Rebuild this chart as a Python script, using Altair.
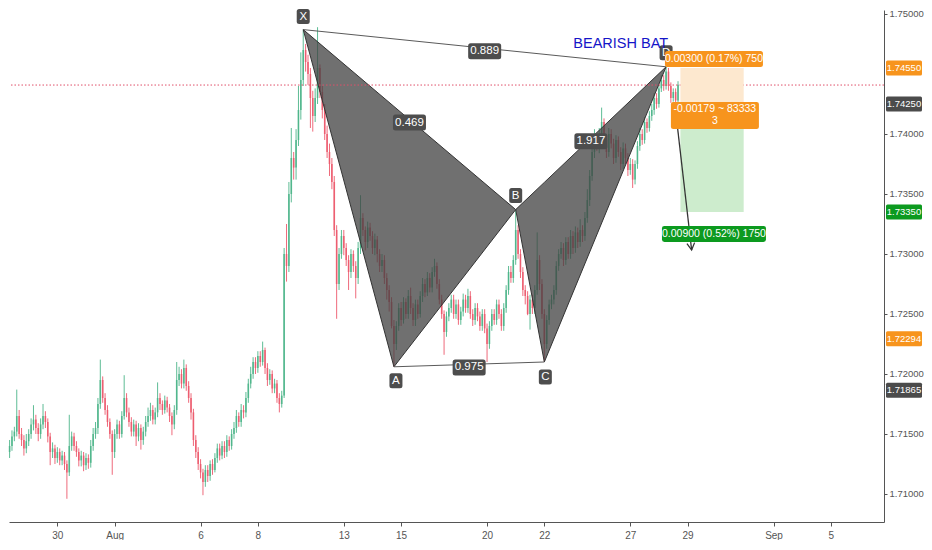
import altair as alt
import pandas as pd

# ---------------- data ----------------
# 2-hour candles; prices are written in pips (0.0001) above 1.70000
BASE = 1.70
PIP = 0.0001

opens = [
    135,140,148,152,165,150,145,138,144,150,
    158,162,155,150,158,165,160,148,135,138,
    130,135,128,132,125,118,140,148,140,135,
    128,132,124,130,126,140,150,155,175,195,
    180,170,160,150,135,150,158,150,165,180,
    168,160,152,158,148,155,145,152,160,165,
    170,162,168,180,175,170,178,172,165,158,
    170,195,200,192,205,190,180,168,145,135,
    125,118,110,120,115,125,120,130,138,132,
    140,135,145,140,150,155,165,160,170,168,
    180,192,200,210,205,215,210,220,205,195,
    200,188,192,180,175,182,300,290,350,380,
    372,395,420,445,470,460,450,430,415,430,
    455,435,420,400,385,375,360,320,275,300,
    315,305,295,285,300,290,280,305,330,320,
    310,322,315,305,312,300,290,295,280,270,
    260,240,225,240,255,245,260,250,265,255,
    245,258,250,265,275,268,280,272,285,290,
    275,262,250,235,248,255,262,250,258,245,
    252,262,255,265,250,245,255,248,240,250,
    238,225,240,250,245,258,250,240,255,270,
    285,280,295,320,300,285,270,265,250,262,
    255,270,295,275,250,225,245,258,262,270,
    290,300,305,295,310,300,315,305,318,310,
    320,315,330,345,365,385,395,390,400,410,
    395,385,400,392,380,395,385,375,388,380,
    370,375,362,375,390,400,395,410,405,415,
    420,430,425,438,445,440,452,440,430,435,
    428,
]
highs = [
    145,153,156,187,170,155,149,150,154,163,
    174,166,159,163,175,169,163,151,143,141,
    139,138,136,135,128,166,152,151,144,138,
    136,135,134,133,145,155,160,180,212,198,
    184,174,163,153,154,162,161,169,199,184,
    172,164,162,161,159,158,156,165,172,176,
    174,172,193,184,178,182,181,175,168,174,
    210,206,204,212,208,194,184,171,149,139,
    129,121,124,124,128,129,134,142,142,144,
    144,149,148,154,160,170,168,175,174,185,
    196,206,214,214,219,219,227,222,209,204,
    203,196,195,184,186,305,325,360,405,385,
    404,440,468,487,475,466,455,436,438,489,
    458,440,425,407,392,380,365,324,305,320,
    320,309,299,304,303,294,310,349,334,323,
    327,326,319,317,315,304,300,299,284,274,
    264,245,244,259,260,264,263,270,272,259,
    262,262,269,280,279,285,284,289,296,293,
    279,266,253,252,259,266,266,262,262,256,
    267,266,271,269,254,259,259,252,254,254,
    242,244,254,254,262,262,254,259,274,290,
    290,299,337,324,304,289,274,269,266,266,
    274,318,299,279,254,249,262,266,274,294,
    304,310,309,314,314,320,319,323,322,329,
    324,335,354,370,392,404,400,405,422,413,
    399,405,404,396,399,398,389,393,392,384,
    380,379,378,394,405,404,414,413,419,425,
    434,434,441,449,449,456,455,443,438,438,
    444,
]
lows = [
    130,136,144,148,146,140,132,134,140,146,
    153,150,144,146,154,155,143,124,130,125,
    126,124,124,120,96,115,136,136,131,123,
    123,119,120,121,122,136,146,150,171,176,
    166,156,146,116,130,146,146,147,162,164,
    156,148,148,140,144,137,141,148,156,161,
    158,158,164,170,166,167,168,160,149,154,
    166,190,188,188,186,176,162,140,130,120,
    113,99,106,110,111,116,118,126,128,129,
    130,131,136,137,146,151,156,156,163,164,
    176,188,196,200,201,206,207,200,190,191,
    184,184,176,168,172,180,277,285,343,362,
    362,390,412,440,452,441,405,402,410,425,
    430,413,395,380,365,354,315,246,270,296,
    299,290,270,280,285,263,275,300,315,303,
    305,311,300,299,293,285,285,275,262,252,
    238,206,220,236,240,242,246,246,250,240,
    240,246,247,260,264,265,268,268,281,271,
    258,246,216,231,244,251,246,246,241,241,
    248,251,251,246,240,241,244,236,236,234,
    210,221,236,241,241,246,236,236,251,266,
    276,276,291,296,280,265,258,249,237,250,
    250,266,270,246,210,221,241,254,258,266,
    286,296,290,291,296,296,300,301,305,306,
    310,311,326,340,361,380,386,384,395,390,
    380,381,388,375,376,381,370,371,375,365,
    366,355,358,371,386,391,392,401,402,411,
    416,421,422,435,436,437,436,426,427,422,
    425,
]
closes = [
    140,148,152,165,150,145,138,144,150,158,
    162,155,150,158,165,160,148,135,138,130,
    135,128,132,125,118,140,148,140,135,128,
    132,124,130,126,140,150,155,175,195,180,
    170,160,150,135,150,158,150,165,180,168,
    160,152,158,148,155,145,152,160,165,170,
    162,168,180,175,170,178,172,165,158,170,
    195,200,192,205,190,180,168,145,135,125,
    118,110,120,115,125,120,130,138,132,140,
    135,145,140,150,155,165,160,170,168,180,
    192,200,210,205,215,210,220,205,195,200,
    188,192,180,175,182,300,290,350,380,372,
    395,420,445,470,460,450,430,415,430,455,
    435,420,400,385,375,360,320,275,300,315,
    305,295,285,300,290,280,305,330,320,310,
    322,315,305,312,300,290,295,280,270,260,
    240,225,240,255,245,260,250,265,255,245,
    258,250,265,275,268,280,272,285,290,275,
    262,250,235,248,255,262,250,258,245,252,
    262,255,265,250,245,255,248,240,250,238,
    225,240,250,245,258,250,240,255,270,285,
    280,295,320,300,285,270,265,250,262,255,
    270,295,275,250,225,245,258,262,270,290,
    300,305,295,310,300,315,305,318,310,320,
    315,330,345,365,385,395,390,400,410,395,
    385,400,392,380,395,385,375,388,380,370,
    375,362,375,390,400,395,410,405,415,420,
    430,425,438,445,440,452,440,430,435,428,
    441,
]

# time axis: bar index (12 two-hour bars per trading day, weekends skipped)
date_ticks = [20, 44, 80, 104, 140, 164, 200, 224, 260, 284, 320, 344]
date_labels = ["30", "Aug", "6", "8", "13", "15", "20", "22", "27", "29", "Sep", "5"]
price_ticks = [1.710, 1.715, 1.720, 1.725, 1.730, 1.735, 1.740, 1.750]

# harmonic pattern
pat_names = ["X", "A", "B", "C", "D"]
pat_bars = [123, 161, 212, 224, 275]
pat_prices = [1.74870, 1.72060, 1.73370, 1.72100, 1.74560]
ratio_text = ["0.889", "0.469", "1.917", "0.975"]
ratio_pairs = [("X", "D"), ("X", "B"), ("B", "D"), ("A", "C")]
title_text = "BEARISH BAT"
title_bar, title_price = 256, 1.7475

# short position tool
pos_bars = [281, 307.5]
pos_stop, pos_entry, pos_target = 1.7455, 1.7425, 1.7335
pos_top_label = "0.00300 (0.17%) 750"
pos_mid_label = ["-0.00179 ~ 83333", "3"]
pos_bot_label = "0.00900 (0.52%) 1750"
arrow_bars = [278.7, 285.7]
arrow_prices = [1.74242, 1.73033]

last_price = 1.74408
tag_prices = [1.74550, 1.74250, 1.73350, 1.72294, 1.71865]
tag_colors = ["#f7941d", "#4b4b4b", "#0c9a1f", "#f7941d", "#4b4b4b"]

# ---------------- layout ----------------
FONT = "Liberation Sans, Arial, sans-serif"
W, H = 875, 512
XDOM = [-0.25, 366.28]
YDOM = [1.750333 - H / 12000.0, 1.750333]
PXP = (YDOM[1] - YDOM[0]) / H   # price per pixel
PXB = (XDOM[1] - XDOM[0]) / W   # bars per pixel

xs = alt.Scale(domain=XDOM, nice=False, zero=False)
ys = alt.Scale(domain=YDOM, nice=False, zero=False)

label_expr = "[" + ",".join("'%s'" % s for s in date_labels) + "][indexof([" + \
    ",".join(str(v) for v in date_ticks) + "], datum.value)]"
x_axis = alt.Axis(values=date_ticks, labelExpr=label_expr, title=None, grid=False,
                  domainColor="#555", tickColor="#555", tickSize=4, labelColor="#555",
                  labelFont=FONT, labelFontSize=10, labelPadding=4,
                  labelFlush=False, labelOverlap=False)
y_axis = alt.Axis(orient="right", values=price_ticks, format=".5f", title=None, grid=False,
                  domainColor="#555", tickColor="#555", tickSize=3, labelColor="#555",
                  labelFont=FONT, labelFontSize=9.5, labelPadding=2,
                  labelFlush=False, labelOverlap=False)


def X(f):
    return alt.X(f + ":Q", scale=xs, axis=x_axis)


def Y(f):
    return alt.Y(f + ":Q", scale=ys, axis=y_axis)


n = min(len(opens), len(highs), len(lows), len(closes))
cdf = pd.DataFrame({
    "bar": list(range(n)),
    "o": [BASE + v * PIP for v in opens[:n]],
    "h": [BASE + v * PIP for v in highs[:n]],
    "l": [BASE + v * PIP for v in lows[:n]],
    "c": [BASE + v * PIP for v in closes[:n]],
})
cdf["col"] = ["#4cb58a" if c >= o else "#ec5a6d" for o, c in zip(opens[:n], closes[:n])]

wicks = alt.Chart(cdf).mark_rule(strokeWidth=1, opacity=0.9).encode(
    x=X("bar"), y=Y("l"), y2="h:Q", color=alt.Color("col:N", scale=None))
bodies = alt.Chart(cdf).mark_rule(strokeWidth=1.6, opacity=0.9).encode(
    x=X("bar"), y=Y("o"), y2="c:Q", color=alt.Color("col:N", scale=None))

P = {k: (b, p) for k, b, p in zip(pat_names, pat_bars, pat_prices)}


def on_line(b, a, z):
    (b0, v0), (b1, v1) = a, z
    return v0 + (v1 - v0) * (b - b0) / (b1 - b0)


tri_rows = []
for name, (a, m, z) in {"XAB": ("X", "A", "B"), "BCD": ("B", "C", "D")}.items():
    for k in (a, m, z):
        b, p = P[k]
        tri_rows.append({"tri": name, "bar": b, "lo": p, "hi": on_line(b, P[a], P[z])})
tdf = pd.DataFrame(tri_rows)
tris = alt.Chart(tdf).mark_area(fill="#404040", fillOpacity=0.75, stroke="#333333",
                                strokeWidth=1).encode(
    x=X("bar"), y=Y("lo"), y2="hi:Q", detail="tri:N")

seg = pd.DataFrame([
    {"b1": P["X"][0], "p1": P["X"][1], "b2": P["D"][0], "p2": P["D"][1]},
    {"b1": P["A"][0], "p1": P["A"][1], "b2": P["C"][0], "p2": P["C"][1]},
])
segs = alt.Chart(seg).mark_rule(color="#5a5a5a", strokeWidth=1).encode(
    x=X("b1"), x2="b2:Q", y=Y("p1"), y2="p2:Q")

cur = alt.Chart(pd.DataFrame({"p": [last_price]})).mark_rule(
    color="#e0506a", strokeDash=[1.5, 2], strokeWidth=1).encode(y=Y("p"))

pos = pd.DataFrame([
    {"b1": pos_bars[0], "b2": pos_bars[1], "p1": pos_entry, "p2": pos_stop, "fill": "#fde8cf"},
    {"b1": pos_bars[0], "b2": pos_bars[1], "p1": pos_entry, "p2": pos_target, "fill": "#cdeccd"},
])
pos_rects = alt.Chart(pos).mark_rect().encode(
    x=X("b1"), x2="b2:Q", y=Y("p1"), y2="p2:Q", color=alt.Color("fill:N", scale=None))

arr = pd.DataFrame({"b1": [arrow_bars[0]], "p1": [arrow_prices[0]],
                    "b2": [arrow_bars[1]], "p2": [arrow_prices[1]]})
arrow_line = alt.Chart(arr).mark_rule(color="#333", strokeWidth=1.3).encode(
    x=X("b1"), x2="b2:Q", y=Y("p1"), y2="p2:Q")
arrow_head = alt.Chart(arr).mark_point(
    shape="M-0.55,-1L0,0L0.55,-1", filled=False, size=196, angle=353,
    strokeWidth=1.3, color="#333", opacity=1).encode(x=X("b2"), y=Y("p2"))


def box_path(w, h, r=2.5):
    s = w / 2.0
    a = h / 2.0 / s
    k = r / s
    return ("M%.4f,%.4fL%.4f,%.4fQ1,%.4f 1,%.4fL1,%.4fQ1,%.4f %.4f,%.4fL%.4f,%.4f"
            "Q-1,%.4f -1,%.4fL-1,%.4fQ-1,%.4f %.4f,%.4fZ") % (
        -1 + k, -a, 1 - k, -a, -a, -a + k, a - k, a, 1 - k, a, -1 + k, a,
        a, a - k, -a + k, -a, -1 + k, -a)


def boxes_df(rows):
    df = pd.DataFrame(rows)
    df["path"] = [box_path(w, h) for w, h in zip(df["w"], df["h"])]
    df["sz"] = df["w"] ** 2
    return df


# pattern labels (centre = anchor point + pixel offset)
pat_off = {"X": (0, -13), "A": (2, 14), "B": (0, -14), "C": (1, 15), "D": (0, -14)}
prow = []
for k in pat_names:
    b, p = P[k]
    dx, dy = pat_off[k]
    prow.append({"bar": b + dx * PXB, "price": p - dy * PXP, "w": 13, "h": 15,
                 "bg": "#4d4d4d", "label": k, "fs": 11.5})
for t, (a, z) in zip(ratio_text, ratio_pairs):
    b = (P[a][0] + P[z][0]) / 2
    p = (P[a][1] + P[z][1]) / 2
    prow.append({"bar": b, "price": p - 3 * PXP, "w": 33, "h": 16,
                 "bg": "#4d4d4d", "label": t, "fs": 11.5})
pdf = boxes_df(prow)

mid_bar = (pos_bars[0] + pos_bars[1]) / 2 + 0.8
qrow = [
    {"bar": mid_bar, "price": pos_stop + 9 * PXP, "w": 98, "h": 16, "bg": "#f7941d",
     "label": pos_top_label, "fs": 10.5},
    {"bar": mid_bar + 0.4, "price": pos_entry - 11.5 * PXP, "w": 88, "h": 27, "bg": "#f7941d",
     "label": "", "fs": 10.5},
    {"bar": mid_bar, "price": pos_target - 22 * PXP, "w": 104, "h": 16, "bg": "#0c9a1f",
     "label": pos_bot_label, "fs": 10.5},
]
qdf = boxes_df(qrow)
qtext = pd.DataFrame([
    {"bar": mid_bar + 0.4, "price": pos_entry - 5.5 * PXP, "label": pos_mid_label[0], "fs": 10.5},
    {"bar": mid_bar + 0.4, "price": pos_entry - 17.5 * PXP, "label": pos_mid_label[1], "fs": 10.5},
    {"bar": mid_bar, "price": pos_stop + 9 * PXP, "label": pos_top_label, "fs": 10.5},
    {"bar": mid_bar, "price": pos_target - 22 * PXP, "label": pos_bot_label, "fs": 10.5},
])


def box_layer(df):
    return alt.Chart(df).mark_point(filled=True, opacity=1, strokeWidth=0).encode(
        x=X("bar"), y=Y("price"),
        shape=alt.Shape("path:N", scale=None),
        size=alt.Size("sz:Q", scale=None),
        color=alt.Color("bg:N", scale=None))


def text_layer(df):
    return alt.Chart(df).mark_text(font=FONT, align="center", baseline="middle",
                                   color="white").encode(
        x=X("bar"), y=Y("price"), text="label:N", size=alt.Size("fs:Q", scale=None))


title = alt.Chart(pd.DataFrame({"bar": [title_bar], "price": [title_price],
                                "label": [title_text]})).mark_text(
    font=FONT, fontSize=14.5, color="#1515c8", align="center", baseline="middle").encode(
    x=X("bar"), y=Y("price"), text="label:N")

TAG_X = W + 20
tags = pd.DataFrame({"price": tag_prices, "bg": tag_colors,
                     "label": ["%.5f" % v for v in tag_prices]})
tags["path"] = box_path(36, 15, 1.5)
tags["sz"] = 36 ** 2
tag_boxes = alt.Chart(tags).mark_point(filled=True, opacity=1, strokeWidth=0).encode(
    x=alt.value(TAG_X), y=Y("price"),
    shape=alt.Shape("path:N", scale=None),
    size=alt.Size("sz:Q", scale=None),
    color=alt.Color("bg:N", scale=None))
tag_text = alt.Chart(tags).mark_text(font=FONT, fontSize=9.5, color="white",
                                     align="center", baseline="middle").encode(
    x=alt.value(TAG_X), y=Y("price"), text="label:N")

chart = alt.layer(
    wicks, bodies, tris, segs, cur, pos_rects, arrow_line, arrow_head,
    box_layer(pdf), text_layer(pdf),
    box_layer(qdf), text_layer(qtext),
    title, tag_boxes, tag_text,
).properties(width=W, height=H, padding=0, background="white").configure_view(stroke=None)

chart.save("out.html", embed_options={"renderer": "svg", "actions": False})
